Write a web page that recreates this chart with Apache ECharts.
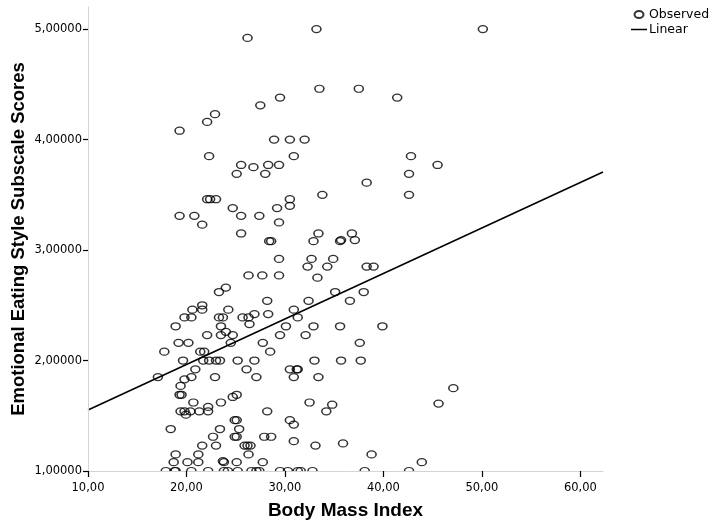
<!DOCTYPE html>
<html>
<head>
<meta charset="utf-8">
<script src="https://cdn.jsdelivr.net/npm/echarts@6/dist/echarts.min.js"></script>
<style>
  html, body { margin: 0; padding: 0; background: #ffffff; }
  #chart { width: 712px; height: 524px; }
</style>
</head>
<body>
<div id="chart"></div>
<script>
// Body Mass Index of each respondent
const bmi = [
  26.2, 33.2, 50.1, 33.5, 37.5, 41.4, 29.5, 27.5, 22.9, 22.1,
  19.3, 28.9, 30.5, 32.0, 22.3, 30.9, 42.8, 25.55, 26.8, 28.3,
  29.4, 45.5, 25.1, 28.0, 42.6, 38.3, 22.1, 22.4, 23.0, 30.5,
  33.8, 42.6, 30.5, 24.7, 29.2, 19.3, 20.8, 25.55, 27.4, 21.6,
  29.4, 25.55, 33.4, 36.8, 28.4, 28.6, 32.9, 35.6, 35.7, 37.1,
  29.4, 32.7, 34.9, 32.3, 34.3, 38.3, 39.0, 26.3, 27.7, 29.4,
  33.3, 23.3, 24.0, 35.1, 38.0, 28.2, 32.4, 36.6, 21.6, 21.6,
  20.6, 24.25, 30.9, 19.8, 20.5, 23.3, 23.7, 25.7, 26.3, 26.9,
  28.3, 26.4, 31.3, 18.9, 23.5, 30.1, 32.9, 35.6, 39.9, 24.0,
  24.7, 22.1, 23.5, 29.5, 32.1, 24.5, 19.2, 20.2, 27.75, 37.6,
  17.75, 21.4, 21.8, 28.5, 19.65, 21.7, 22.3, 23.0, 23.4, 25.2,
  26.9, 33.0, 35.7, 37.7, 20.9, 26.1, 30.5, 31.2, 31.3, 17.1,
  19.8, 20.5, 22.9, 27.1, 30.9, 33.4, 19.4, 19.3, 19.5, 24.7,
  25.1, 20.7, 22.2, 23.5, 32.5, 34.8, 19.4, 19.8, 20.4, 21.3,
  22.2, 19.95, 28.2, 34.2, 18.4, 24.9, 25.1, 30.5, 30.9, 23.4,
  25.35, 22.7, 23.0, 24.9, 25.1, 27.9, 28.6, 30.9, 21.6, 25.9,
  26.2, 26.5, 33.1, 35.9, 26.3, 18.9, 21.2, 38.8, 18.7, 20.1,
  21.2, 23.7, 23.8, 25.1, 27.75, 43.9, 47.1, 45.6,
  17.9, 18.8, 18.9, 20.5, 22.2, 23.8, 24.2, 25.2, 26.6, 27.1,
  27.4, 29.5, 30.3, 31.3, 31.6, 32.8, 38.1, 42.6
];

// Emotional Eating Style subscale score of each respondent
const emotionalScores = [
  4.92, 5.00, 5.00, 4.46, 4.46, 4.38, 4.38, 4.31, 4.23, 4.16,
  4.08, 4.00, 4.00, 4.00, 3.85, 3.85, 3.85, 3.77, 3.75, 3.77,
  3.77, 3.77, 3.69, 3.69, 3.69, 3.61, 3.46, 3.46, 3.46, 3.46,
  3.50, 3.50, 3.40, 3.38, 3.38, 3.31, 3.31, 3.31, 3.31, 3.23,
  3.25, 3.15, 3.15, 3.15, 3.08, 3.08, 3.08, 3.08, 3.09, 3.09,
  2.92, 2.92, 2.92, 2.85, 2.85, 2.85, 2.85, 2.77, 2.77, 2.77,
  2.75, 2.62, 2.66, 2.62, 2.62, 2.54, 2.54, 2.54, 2.50, 2.46,
  2.46, 2.46, 2.46, 2.39, 2.39, 2.39, 2.39, 2.39, 2.39, 2.42,
  2.42, 2.33, 2.39, 2.31, 2.31, 2.31, 2.31, 2.31, 2.31, 2.26,
  2.23, 2.23, 2.23, 2.23, 2.23, 2.16, 2.16, 2.16, 2.16, 2.16,
  2.08, 2.08, 2.08, 2.08, 2.00, 2.00, 2.00, 2.00, 2.00, 2.00,
  2.00, 2.00, 2.00, 2.00, 1.92, 1.92, 1.92, 1.92, 1.92, 1.85,
  1.83, 1.85, 1.85, 1.85, 1.85, 1.85, 1.77, 1.69, 1.69, 1.67,
  1.69, 1.62, 1.58, 1.62, 1.62, 1.60, 1.54, 1.54, 1.54, 1.54,
  1.54, 1.51, 1.54, 1.54, 1.38, 1.46, 1.46, 1.46, 1.42, 1.38,
  1.38, 1.31, 1.23, 1.31, 1.31, 1.31, 1.31, 1.27, 1.23, 1.23,
  1.23, 1.23, 1.23, 1.25, 1.15, 1.15, 1.15, 1.15, 1.08, 1.08,
  1.08, 1.09, 1.08, 1.08, 1.08, 1.08, 1.75, 1.61,
  1.00, 1.00, 1.00, 1.00, 1.00, 1.00, 1.00, 1.00, 1.00, 1.00,
  1.00, 1.00, 1.00, 1.00, 1.00, 1.00, 1.00, 1.00
];

// Axis ticks and ranges
const xTicks = [10, 20, 30, 40, 50, 60];
const yTicks = [1, 2, 3, 4, 5];
const xRange = [10, 62.3];
const yRange = [1, 5.2];

// Linear fit: score = fitIntercept + fitSlope * BMI
const fitIntercept = 1.14;
const fitSlope = 0.0412;

const seriesNames = ['Observed', 'Linear'];
const xTitle = 'Body Mass Index';
const yTitle = 'Emotional Eating Style Subscale Scores';

// Plot area in pixels
const plot = { left: 88, top: 7, right: 109, bottom: 53 };
const W = 712, H = 524;

const points = bmi.map((b, i) => [b, emotionalScores[i]]);
const fitLine = xRange.map(x => [x, fitIntercept + fitSlope * x]);

const fmtComma = (v, d) => v.toFixed(d).replace('.', ',');
const titleFont = '"Liberation Sans", Arial, sans-serif';
const tickFont = '"DejaVu Sans", "Liberation Sans", sans-serif';

// hollow, slightly wide circle for the legend, plain bar for the fit line
const ringIcon = 'path://M0,3.5 A4.5,3.5 0 1,0 9,3.5 A4.5,3.5 0 1,0 0,3.5 Z';
const lineIcon = 'path://M0,0 H16 V1.5 H0 Z';

const chart = echarts.init(document.getElementById('chart'), null, { renderer: 'canvas' });

chart.setOption({
  animation: false,
  backgroundColor: '#ffffff',
  textStyle: { fontFamily: tickFont },
  grid: {
    left: plot.left, top: plot.top, right: plot.right, bottom: plot.bottom,
    containLabel: false,
    outerBoundsMode: 'none'
  },
  legend: {
    orient: 'vertical',
    left: 631,
    top: 8,
    itemWidth: 16,
    itemHeight: 7,
    itemGap: 2,
    padding: 0,
    textStyle: { fontSize: 12.5, color: '#000', fontFamily: tickFont, padding: [0, 0, 0, -3] },
    data: [
      { name: seriesNames[0], icon: ringIcon },
      { name: seriesNames[1], icon: lineIcon }
    ]
  },
  xAxis: {
    type: 'value',
    min: xRange[0],
    max: xRange[1],
    interval: 10,
    z: 10,
    splitLine: { show: false },
    axisLine: { show: true, onZero: false, lineStyle: { color: '#d4d4d4', width: 1 } },
    axisTick: { show: true, length: 6, customValues: xTicks, lineStyle: { color: '#000', width: 1.2 } },
    axisLabel: {
      customValues: xTicks,
      margin: 11,
      fontSize: 11.5,
      color: '#000',
      fontFamily: tickFont,
      formatter: v => fmtComma(v, 2)
    },
    name: xTitle,
    nameLocation: 'middle',
    nameGap: 30,
    nameMoveOverlap: false,
    nameTextStyle: { fontSize: 19, fontWeight: 'bold', color: '#000', fontFamily: titleFont }
  },
  yAxis: {
    type: 'value',
    min: yRange[0],
    max: yRange[1],
    interval: 1,
    z: 10,
    splitLine: { show: false },
    axisLine: { show: true, onZero: false, lineStyle: { color: '#d4d4d4', width: 1 } },
    axisTick: { show: true, length: 5, customValues: yTicks, lineStyle: { color: '#000', width: 1.2 } },
    axisLabel: {
      customValues: yTicks,
      margin: 6,
      fontSize: 11.5,
      color: '#000',
      fontFamily: tickFont,
      formatter: v => fmtComma(v, 5)
    },
    name: yTitle,
    nameLocation: 'middle',
    nameGap: 60,
    nameMoveOverlap: false,
    nameTextStyle: { fontSize: 18.5, fontWeight: 'bold', color: '#000', fontFamily: titleFont }
  },
  // white strip under the x axis so markers sitting on the axis are cut in half
  graphic: [{
    type: 'rect',
    z: 5,
    silent: true,
    shape: { x: plot.left - 6, y: H - plot.bottom + 0.5, width: W - plot.left - plot.right + 12, height: 14 },
    style: { fill: '#ffffff' }
  }],
  series: [
    {
      name: seriesNames[0],
      type: 'scatter',
      z: 2,
      clip: false,
      data: points,
      symbol: 'circle',
      symbolSize: [9, 7],
      itemStyle: { color: 'rgba(255,255,255,0)', borderColor: '#000', borderWidth: 1.4 },
      emphasis: { disabled: true }
    },
    {
      name: seriesNames[1],
      type: 'line',
      z: 3,
      data: fitLine,
      showSymbol: false,
      symbol: 'none',
      lineStyle: { color: '#000', width: 1.6 },
      itemStyle: { color: '#000' },
      emphasis: { disabled: true }
    }
  ]
});
</script>
</body>
</html>
